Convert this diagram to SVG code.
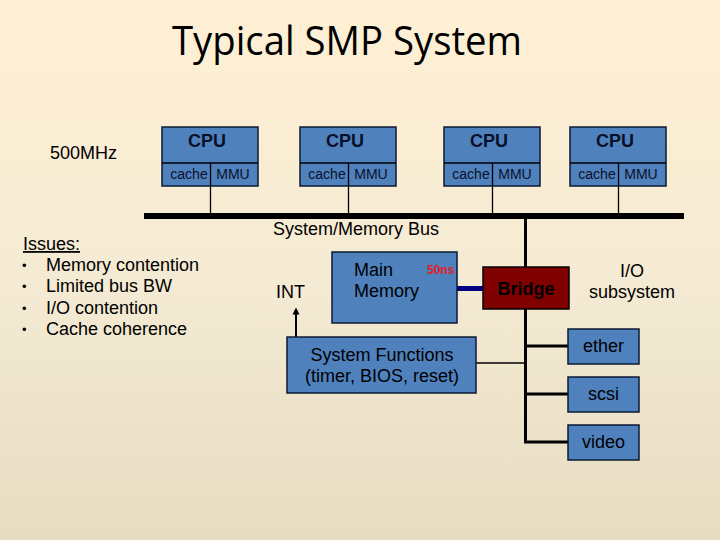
<svg xmlns="http://www.w3.org/2000/svg" width="720" height="540" viewBox="0 0 720 540">
<defs>
<linearGradient id="bg" x1="0" y1="0" x2="0" y2="1">
<stop offset="0" stop-color="#FFF0D4"/>
<stop offset="0.55" stop-color="#F4EAD3"/>
<stop offset="1" stop-color="#E5DCC1"/>
</linearGradient>
<marker id="arr" viewBox="0 0 10 10" refX="5" refY="5" markerWidth="7" markerHeight="8" orient="auto" markerUnits="userSpaceOnUse">
<path d="M0,0 L10,5 L0,10 z" fill="#000"/>
</marker>
<style>
.box{fill:#4F81BD;stroke:#0D1A33;stroke-width:1.5}
.t{font-family:"Liberation Sans",Arial,sans-serif;fill:#000}
.n17{font-size:18px}
.cpu{font-size:18px;font-weight:bold;text-anchor:middle;fill:#0A0F2A}
.sm{font-size:14px;text-anchor:middle;fill:#0A0F2A}
.mid{text-anchor:middle}
.ln{stroke:#000;stroke-width:1.3;fill:none}
.thk{stroke:#000;stroke-width:3;fill:none}
.bul{font-size:13px}
</style>
</defs>
<rect width="720" height="540" fill="url(#bg)"/>
<text x="347" y="55" font-family="'Open Sans','Noto Sans',sans-serif" font-size="40" text-anchor="middle" textLength="350" lengthAdjust="spacingAndGlyphs" fill="#000">Typical SMP System</text>
<text class="t n17" x="50" y="159">500MHz</text>

<g id="connectors">
<line class="ln" x1="210.5" y1="186" x2="210.5" y2="213"/>
<line class="ln" x1="348.5" y1="186" x2="348.5" y2="213"/>
<line class="ln" x1="492.5" y1="186" x2="492.5" y2="213"/>
<line class="ln" x1="618.5" y1="186" x2="618.5" y2="213"/>
<rect x="144" y="213" width="540" height="6" fill="#000"/>
<line class="thk" x1="525.5" y1="219" x2="525.5" y2="443"/>
<line class="thk" x1="524" y1="346" x2="568" y2="346"/>
<line class="thk" x1="524" y1="394" x2="568" y2="394"/>
<line class="thk" x1="524" y1="442" x2="568" y2="442"/>
<line x1="476" y1="363" x2="525" y2="363" stroke="#000" stroke-width="1.5"/>
<line x1="457" y1="288.5" x2="483" y2="288.5" stroke="#000080" stroke-width="5"/>
<line x1="296" y1="337" x2="296" y2="311" stroke="#000" stroke-width="2" marker-end="url(#arr)"/>
</g>

<g id="cpu1">
<rect class="box" x="162" y="127" width="96" height="59"/>
<line class="ln" x1="162" y1="163" x2="258" y2="163"/>
<line class="ln" x1="210.5" y1="163" x2="210.5" y2="186"/>
<text class="t cpu" x="207" y="147">CPU</text>
<text class="t sm" x="189" y="179">cache</text>
<text class="t sm" x="233" y="179">MMU</text>
</g>
<g id="cpu2">
<rect class="box" x="300" y="127" width="96" height="59"/>
<line class="ln" x1="300" y1="163" x2="396" y2="163"/>
<line class="ln" x1="348.5" y1="163" x2="348.5" y2="186"/>
<text class="t cpu" x="345" y="147">CPU</text>
<text class="t sm" x="327" y="179">cache</text>
<text class="t sm" x="371" y="179">MMU</text>
</g>
<g id="cpu3">
<rect class="box" x="444" y="127" width="96" height="59"/>
<line class="ln" x1="444" y1="163" x2="540" y2="163"/>
<line class="ln" x1="492.5" y1="163" x2="492.5" y2="186"/>
<text class="t cpu" x="489" y="147">CPU</text>
<text class="t sm" x="471" y="179">cache</text>
<text class="t sm" x="515" y="179">MMU</text>
</g>
<g id="cpu4">
<rect class="box" x="570" y="127" width="96" height="59"/>
<line class="ln" x1="570" y1="163" x2="666" y2="163"/>
<line class="ln" x1="618.5" y1="163" x2="618.5" y2="186"/>
<text class="t cpu" x="615" y="147">CPU</text>
<text class="t sm" x="597" y="179">cache</text>
<text class="t sm" x="641" y="179">MMU</text>
</g>

<text class="t n17" x="273" y="235">System/Memory Bus</text>

<g id="issues">
<text class="t n17" x="23" y="250" text-decoration="underline">Issues:</text>
<text class="t bul" x="22" y="270">•</text><text class="t n17" x="46" y="271">Memory contention</text>
<text class="t bul" x="22" y="291">•</text><text class="t n17" x="46" y="292">Limited bus BW</text>
<text class="t bul" x="22" y="313">•</text><text class="t n17" x="46" y="314">I/O contention</text>
<text class="t bul" x="22" y="334">•</text><text class="t n17" x="46" y="335">Cache coherence</text>
</g>

<g id="memory">
<rect class="box" x="332" y="252" width="125" height="71"/>
<text class="t n17" x="354" y="276" fill="#0A0F2A">Main</text>
<text class="t n17" x="354" y="297" fill="#0A0F2A">Memory</text>
<text x="427" y="274" font-family="'Liberation Sans',Arial,sans-serif" font-size="12" font-weight="bold" fill="#E02020">50ns</text>
</g>

<g id="int">
<text class="t n17" x="276" y="298">INT</text>
</g>

<g id="sysfunc">
<rect class="box" x="287" y="337" width="189" height="56"/>
<text class="t n17 mid" x="382" y="361" fill="#0A0F2A">System Functions</text>
<text class="t n17 mid" x="382" y="382" fill="#0A0F2A">(timer, BIOS, reset)</text>
</g>

<g id="bridge">
<rect x="483" y="267" width="86" height="42" fill="#800000" stroke="#000" stroke-width="1.5"/>
<text class="t mid" x="526" y="295" font-size="18" font-weight="bold" fill="#FFFFFF">Bridge</text>
</g>

<g id="io">
<text class="t n17 mid" x="632" y="277">I/O</text>
<text class="t n17 mid" x="632" y="298">subsystem</text>
</g>

<g id="ether">
<rect class="box" x="568" y="329" width="71" height="35"/>
<text class="t n17 mid" x="603.5" y="352" fill="#0A0F2A">ether</text>
</g>
<g id="scsi">
<rect class="box" x="568" y="377" width="71" height="35"/>
<text class="t n17 mid" x="603.5" y="400" fill="#0A0F2A">scsi</text>
</g>
<g id="video">
<rect class="box" x="568" y="425" width="71" height="35"/>
<text class="t n17 mid" x="603.5" y="448" fill="#0A0F2A">video</text>
</g>
</svg>
